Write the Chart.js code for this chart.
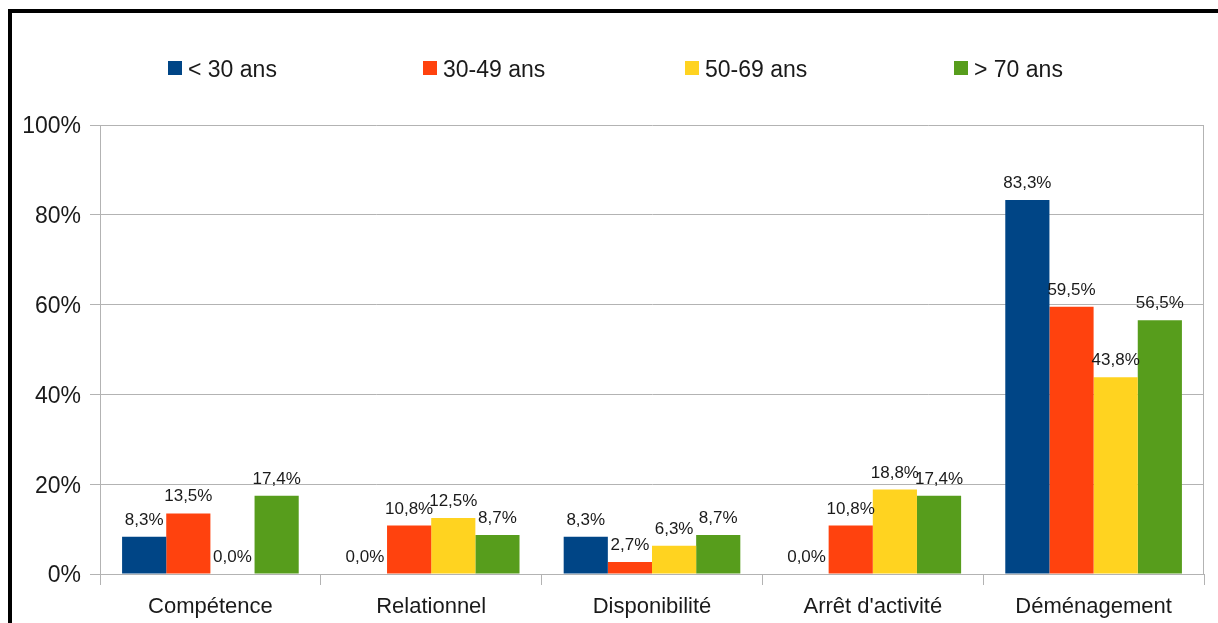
<!DOCTYPE html>
<html>
<head>
<meta charset="utf-8">
<script src="https://cdn.jsdelivr.net/npm/chart.js@4/dist/chart.umd.min.js"></script>
<style>
  html, body { margin: 0; padding: 0; background: #ffffff; }
  canvas { display: block; }
</style>
</head>
<body>
<canvas id="c" width="1218" height="623"></canvas>
<script>
const categories = ["Compétence", "Relationnel", "Disponibilité", "Arrêt d'activité", "Déménagement"];
const seriesNames = ["< 30 ans", "30-49 ans", "50-69 ans", "> 70 ans"];
const under30 = [8.3, 0.0, 8.3, 0.0, 83.3];
const from30to49 = [13.5, 10.8, 2.7, 10.8, 59.5];
const from50to69 = [0.0, 12.5, 6.3, 18.8, 43.8];
const over70 = [17.4, 8.7, 8.7, 17.4, 56.5];
const yTicks = [0, 20, 40, 60, 80, 100];

const colors = ["#004586", "#ff420e", "#ffd320", "#579d1c"];
const FONT = "'Liberation Sans', Arial, sans-serif";
const GRID = "#b3b3b3";

const fmt = v => v.toFixed(1).replace('.', ',') + '%';

const framePlugin = {
  id: 'frame',
  beforeDraw(chart) {
    const ctx = chart.ctx;
    ctx.save();
    ctx.fillStyle = '#ffffff';
    ctx.fillRect(0, 0, chart.width, chart.height);
    ctx.fillStyle = '#000000';
    ctx.fillRect(8, 9, 4, chart.height - 9);
    ctx.fillRect(8, 9, chart.width - 8, 4);
    ctx.restore();
  },
  afterDraw(chart) {
    const ctx = chart.ctx;
    const a = chart.chartArea;
    ctx.save();
    ctx.strokeStyle = GRID;
    ctx.lineWidth = 1;
    ctx.beginPath();
    ctx.moveTo(Math.round(a.right) - 0.5, a.top);
    ctx.lineTo(Math.round(a.right) - 0.5, a.bottom);
    ctx.stroke();
    ctx.restore();
  }
};

const labelPlugin = {
  id: 'valueLabels',
  afterDatasetsDraw(chart) {
    const ctx = chart.ctx;
    ctx.save();
    ctx.font = "17px " + FONT;
    ctx.fillStyle = '#1a1a1a';
    ctx.textAlign = 'center';
    ctx.textBaseline = 'alphabetic';
    chart.data.datasets.forEach((ds, i) => {
      const meta = chart.getDatasetMeta(i);
      meta.data.forEach((bar, j) => {
        ctx.fillText(fmt(ds.data[j]), bar.x, bar.y - 12);
      });
    });
    ctx.restore();
  }
};

const legendPlugin = {
  id: 'customLegend',
  afterDraw(chart) {
    const ctx = chart.ctx;
    const n = chart.data.datasets.length;
    const col = 262;
    const cx0 = chart.width / 2 + 6.5 - col * (n - 1) / 2;
    const y = 68;
    ctx.save();
    ctx.font = "23px " + FONT;
    ctx.textBaseline = 'middle';
    ctx.textAlign = 'left';
    chart.data.datasets.forEach((ds, i) => {
      const tw = ctx.measureText(ds.label).width;
      const w = 14 + 6 + tw;
      const x = Math.round(cx0 + i * col - w / 2);
      ctx.fillStyle = ds.backgroundColor;
      ctx.fillRect(x, y - 7, 14, 14);
      ctx.fillStyle = '#1a1a1a';
      ctx.fillText(ds.label, x + 20, y + 3);
    });
    ctx.restore();
  }
};

const seriesData = [under30, from30to49, from50to69, over70];

new Chart(document.getElementById('c'), {
  type: 'bar',
  data: {
    labels: categories,
    datasets: seriesNames.map((name, i) => ({
      label: name,
      data: seriesData[i],
      backgroundColor: colors[i],
      borderWidth: 0,
      categoryPercentage: 0.8,
      barPercentage: 1.0
    }))
  },
  options: {
    responsive: false,
    animation: false,
    layout: { padding: { top: 125, right: 14, bottom: 0, left: 0 } },
    plugins: {
      legend: { display: false },
      tooltip: { enabled: false },
      title: { display: false }
    },
    scales: {
      x: {
        afterFit: s => { s.height = 49; },
        grid: {
          offset: true,
          drawOnChartArea: false,
          drawTicks: true,
          tickLength: 11,
          color: GRID
        },
        border: { display: true, color: GRID },
        ticks: {
          font: { family: FONT, size: 22 },
          color: '#1a1a1a',
          padding: 9,
          maxRotation: 0
        }
      },
      y: {
        min: 0,
        max: 100,
        afterFit: s => { s.width = 100; },
        afterBuildTicks: s => { s.ticks = yTicks.map(v => ({ value: v })); },
        grid: {
          color: GRID,
          drawTicks: true,
          tickLength: 10
        },
        border: { display: true, color: GRID },
        ticks: {
          font: { family: FONT, size: 23 },
          color: '#1a1a1a',
          padding: 9,
          labelOffset: 2,
          callback: v => v + '%'
        }
      }
    }
  },
  plugins: [framePlugin, labelPlugin, legendPlugin]
});
</script>
</body>
</html>
